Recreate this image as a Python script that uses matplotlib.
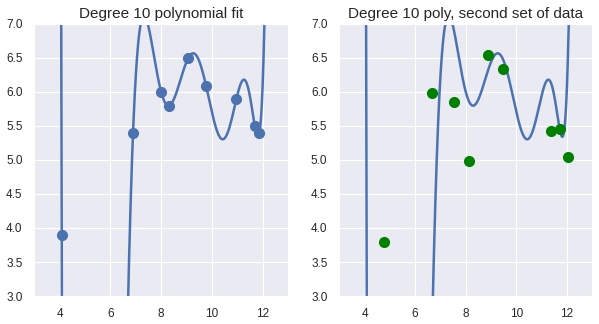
import warnings
import numpy as np
import matplotlib
matplotlib.use('Agg')
import matplotlib.pyplot as plt
import seaborn as sns

warnings.simplefilter('ignore')

# primer conjunto de datos
x1 = [4.08, 6.89, 8.0, 8.31, 9.07, 9.77, 10.96, 11.69, 11.87]
y1 = [3.89, 5.39, 6.0, 5.80, 6.50, 6.09, 5.89, 5.50, 5.39]

# segundo conjunto de datos
x2 = [4.76, 6.67, 7.55, 8.12, 8.88, 9.46, 11.38, 11.71, 12.05]
y2 = [3.80, 5.98, 5.86, 4.98, 6.55, 6.34, 5.43, 5.45, 5.05]

grado = 10
# con 9 puntos el ajuste de grado 10 no es unico: parte libre
# (a*x + b) * prod(x - xi), estimada de la forma de la curva
libre = [4.5e-05, 6.55e-04]
titulos = ['Degree 10 polynomial fit', 'Degree 10 poly, second set of data']

sns.set_style('darkgrid')
plt.rcParams['font.family'] = ['Liberation Sans', 'DejaVu Sans']

coef = np.polyfit(x1, y1, grado)
coef = np.polyadd(coef, np.polymul(libre, np.poly(x1)))
xs = np.linspace(3, 13, 4000)
ys = np.polyval(coef, xs)

fig = plt.figure(figsize=(5.99, 3.24), dpi=100)
ax1 = fig.add_axes([0.0573, 0.0864, 0.4235, 0.8396])
ax2 = fig.add_axes([0.5664, 0.0864, 0.4224, 0.8396])

azul = '#4C72B0'
ax1.plot(xs, ys, color=azul, lw=1.8)
ax1.plot(x1, y1, 'o', color=azul, ms=7)
ax2.plot(xs, ys, color=azul, lw=1.8)
ax2.plot(x2, y2, 'o', color='green', ms=7)

for ax, t in zip((ax1, ax2), titulos):
    ax.set_xlim(3, 13)
    ax.set_ylim(3, 7)
    ax.set_xticks([4, 6, 8, 10, 12])
    ax.set_yticks(np.arange(3, 7.01, 0.5))
    ax.set_yticklabels(['%.1f' % v for v in np.arange(3, 7.01, 0.5)])
    ax.tick_params(labelsize=8.5, colors='#262626', pad=5)
    ax.set_title(t, fontsize=11, color='#262626', pad=4)

fig.savefig('out.png', dpi=100)
